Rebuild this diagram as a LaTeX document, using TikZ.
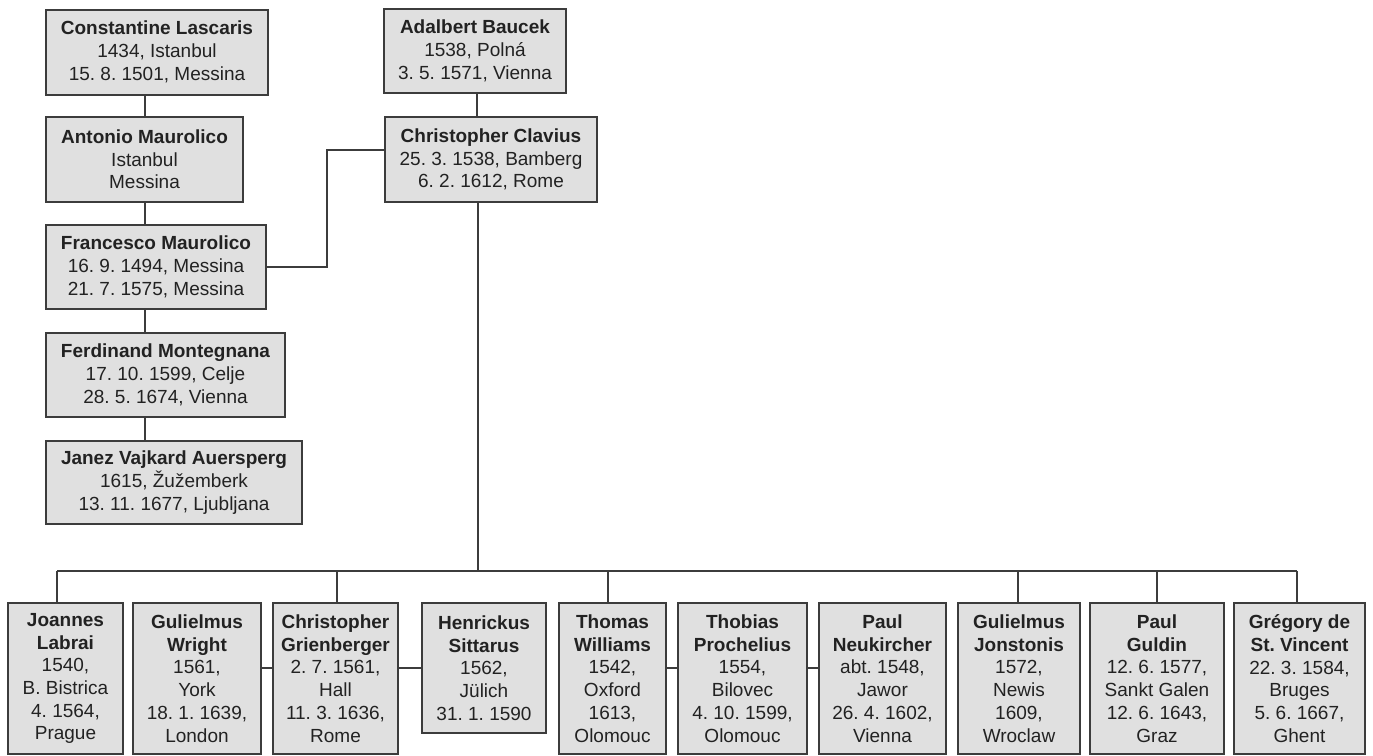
\documentclass[tikz,border=0pt]{standalone}
\usepackage{fontspec}
\setmainfont{Liberation Sans}
\definecolor{boxfill}{HTML}{E0E0E0}
\definecolor{linec}{HTML}{3C3C3C}
\definecolor{textc}{HTML}{222222}
\frenchspacing
\begin{document}
\begin{tikzpicture}[x=0.5pt,y=-0.5pt,
  person/.style={draw=linec, fill=boxfill, line width=1pt, align=center, inner sep=0pt,
    font=\fontsize{9.5}{11.35}\selectfont, text=textc},
  link/.style={draw=linec, line width=1pt}]
\useasboundingbox (0,0) rectangle (1373,756);
% top-left column
\node[person, minimum width=111pt, minimum height=42.5pt] (const) at (157,52) {\textbf{Constantine Lascaris}\\1434, Istanbul\\15. 8. 1501, Messina};
\node[person, minimum width=98.5pt, minimum height=42.5pt] (antonio) at (144.5,159.5) {\textbf{Antonio Maurolico}\\Istanbul\\Messina};
\node[person, minimum width=110pt, minimum height=42pt] (francesco) at (156,267) {\textbf{Francesco Maurolico}\\16. 9. 1494, Messina\\21. 7. 1575, Messina};
\node[person, minimum width=119.5pt, minimum height=42pt] (ferdinand) at (165.5,375) {\textbf{Ferdinand Montegnana}\\17. 10. 1599, Celje\\28. 5. 1674, Vienna};
\node[person, minimum width=128pt, minimum height=41.5pt] (janez) at (174,482.5) {\textbf{Janez Vajkard Auersperg}\\1615, Žužemberk\\13. 11. 1677, Ljubljana};
% top-middle column
\node[person, minimum width=91pt, minimum height=42pt] (adalbert) at (475,51) {\textbf{Adalbert Baucek}\\1538, Polná\\3. 5. 1571, Vienna};
\node[person, minimum width=106pt, minimum height=42.5pt] (clavius) at (491,159.5) {\textbf{Christopher Clavius}\\25. 3. 1538, Bamberg\\6. 2. 1612, Rome};
% bottom row
\node[person, minimum width=57.5pt, minimum height=75.5pt] (joannes) at (65.5,678.5) {\textbf{Joannes}\\\textbf{Labrai}\\1540,\\B. Bistrica\\4. 1564,\\Prague};
\node[person, minimum width=64pt, minimum height=75.5pt] (wright) at (197,678.5) {\textbf{Gulielmus}\\\textbf{Wright}\\1561,\\York\\18. 1. 1639,\\London};
\node[person, minimum width=62.5pt, minimum height=75.5pt] (grien) at (335.5,678.5) {\textbf{Christopher}\\\textbf{Grienberger}\\2. 7. 1561,\\Hall\\11. 3. 1636,\\Rome};
\node[person, minimum width=62pt, minimum height=65pt] (henr) at (484,668) {\textbf{Henrickus}\\\textbf{Sittarus}\\1562,\\Jülich\\31. 1. 1590};
\node[person, minimum width=53.5pt, minimum height=75.5pt] (thomas) at (612.5,678.5) {\textbf{Thomas}\\\textbf{Williams}\\1542,\\Oxford\\1613,\\Olomouc};
\node[person, minimum width=64.5pt, minimum height=75.5pt] (thobias) at (742.5,678.5) {\textbf{Thobias}\\\textbf{Prochelius}\\1554,\\Bilovec\\4. 10. 1599,\\Olomouc};
\node[person, minimum width=63.5pt, minimum height=75.5pt] (neuk) at (882.5,678.5) {\textbf{Paul}\\\textbf{Neukircher}\\abt. 1548,\\Jawor\\26. 4. 1602,\\Vienna};
\node[person, minimum width=61pt, minimum height=75.5pt] (jonst) at (1019,678.5) {\textbf{Gulielmus}\\\textbf{Jonstonis}\\1572,\\Newis\\1609,\\Wroclaw};
\node[person, minimum width=67pt, minimum height=75.5pt] (guldin) at (1157,678.5) {\textbf{Paul}\\\textbf{Guldin}\\12. 6. 1577,\\Sankt Galen\\12. 6. 1643,\\Graz};
\node[person, minimum width=65.5pt, minimum height=75.5pt] (gregory) at (1299.5,678.5) {\textbf{Grégory de}\\\textbf{St. Vincent}\\22. 3. 1584,\\Bruges\\5. 6. 1667,\\Ghent};
% helper coordinates
\coordinate (acol) at (477,0);
\coordinate (bus) at (478,571);
\coordinate (elb) at (327,150);
\coordinate (sib) at (0,668);
\coordinate (d1) at (57,571);
\coordinate (d2) at (337,571);
\coordinate (d3) at (608,571);
\coordinate (d4) at (1018,571);
\coordinate (d5) at (1157,571);
\coordinate (d6) at (1297,571);
% left column links
\draw[link] (const.south -| antonio.north) -- (antonio.north);
\draw[link] (antonio.south) -- (antonio.south |- francesco.north);
\draw[link] (antonio.south |- francesco.south) -- (antonio.south |- ferdinand.north);
\draw[link] (antonio.south |- ferdinand.south) -- (antonio.south |- janez.north);
% middle links
\draw[link] (acol |- adalbert.south) -- (acol |- clavius.north);
\draw[link] (francesco.east) -| (elb) -- (elb -| clavius.west);
\draw[link] (bus |- clavius.south) -- (bus);
% bus
\draw[link] (d1) -- (d6);
\draw[link] (d1) -- (d1 |- joannes.north);
\draw[link] (d2) -- (d2 |- grien.north);
\draw[link] (d3) -- (d3 |- thomas.north);
\draw[link] (d4) -- (d4 |- jonst.north);
\draw[link] (d5) -- (d5 |- guldin.north);
\draw[link] (d6) -- (d6 |- gregory.north);
% sibling links
\draw[link] (wright.east |- sib) -- (grien.west |- sib);
\draw[link] (grien.east |- sib) -- (henr.west |- sib);
\draw[link] (thomas.east |- sib) -- (thobias.west |- sib);
\draw[link] (thobias.east |- sib) -- (neuk.west |- sib);
\end{tikzpicture}
\end{document}
